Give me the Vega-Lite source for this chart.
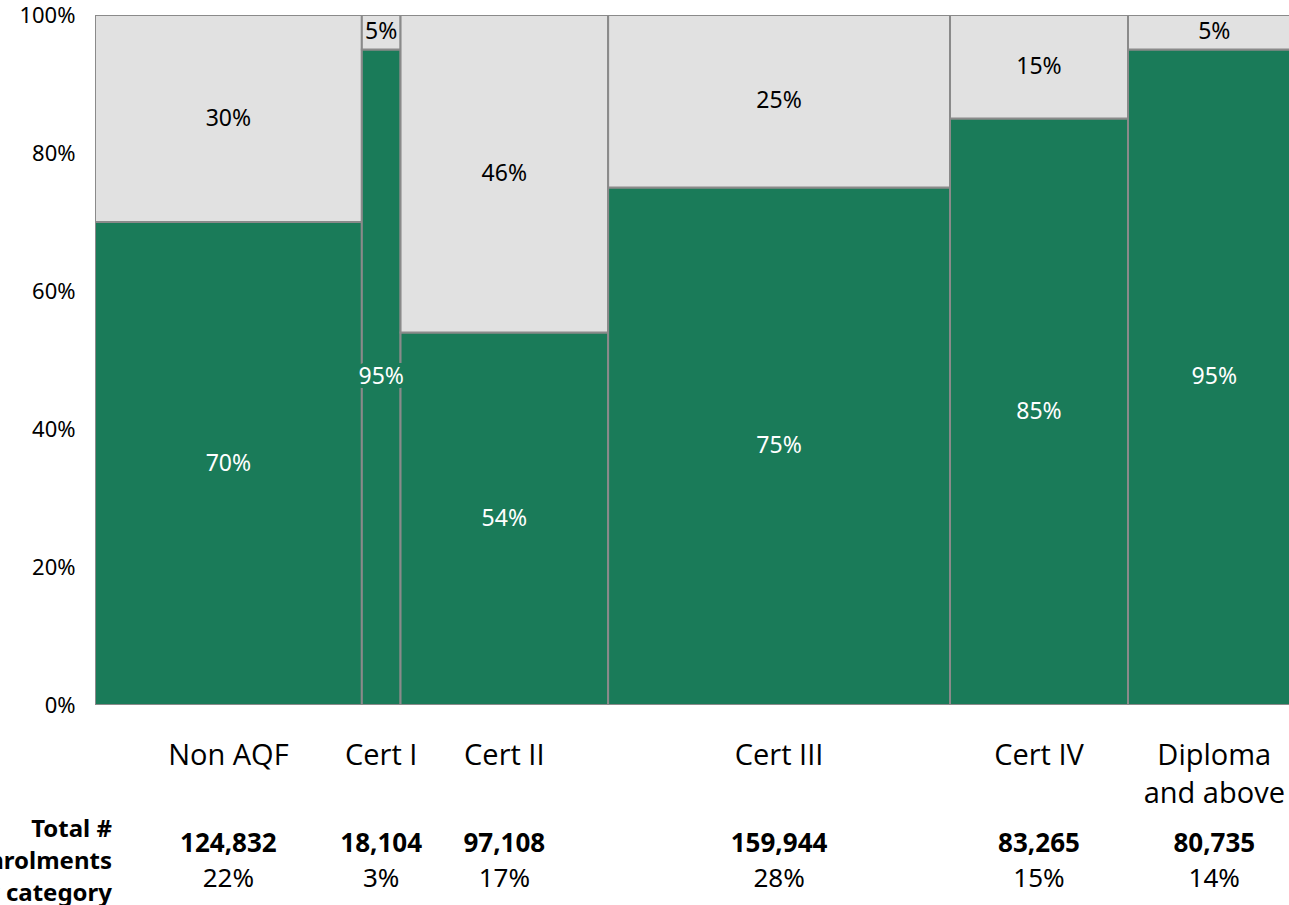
{
  "$schema": "https://vega.github.io/schema/vega-lite/v6.json",
  "autosize": {"type": "none"},
  "width": 1194,
  "height": 690,
  "padding": {"left": 95, "top": 15, "right": 0, "bottom": 200},
  "background": "white",
  "config": {"view": {"stroke": null}},
  "data": {
    "values": [
      {"cat": "Non AQF", "label": "Non AQF", "order": 1, "total": 124832, "share": "22%", "seg": "A", "pct": 0.70},
      {"cat": "Non AQF", "label": "Non AQF", "order": 1, "total": 124832, "share": "22%", "seg": "B", "pct": 0.30},
      {"cat": "Cert I", "label": "Cert I", "order": 2, "total": 18104, "share": "3%", "seg": "A", "pct": 0.95},
      {"cat": "Cert I", "label": "Cert I", "order": 2, "total": 18104, "share": "3%", "seg": "B", "pct": 0.05},
      {"cat": "Cert II", "label": "Cert II", "order": 3, "total": 97108, "share": "17%", "seg": "A", "pct": 0.54},
      {"cat": "Cert II", "label": "Cert II", "order": 3, "total": 97108, "share": "17%", "seg": "B", "pct": 0.46},
      {"cat": "Cert III", "label": "Cert III", "order": 4, "total": 159944, "share": "28%", "seg": "A", "pct": 0.75},
      {"cat": "Cert III", "label": "Cert III", "order": 4, "total": 159944, "share": "28%", "seg": "B", "pct": 0.25},
      {"cat": "Cert IV", "label": "Cert IV", "order": 5, "total": 83265, "share": "15%", "seg": "A", "pct": 0.85},
      {"cat": "Cert IV", "label": "Cert IV", "order": 5, "total": 83265, "share": "15%", "seg": "B", "pct": 0.15},
      {"cat": "Diploma and above", "label": "Diploma\nand above", "order": 6, "total": 80735, "share": "14%", "seg": "A", "pct": 0.95},
      {"cat": "Diploma and above", "label": "Diploma\nand above", "order": 6, "total": 80735, "share": "14%", "seg": "B", "pct": 0.05}
    ]
  },
  "transform": [
    {"stack": "total", "groupby": ["seg"], "sort": [{"field": "order"}], "as": ["x0", "x1"]},
    {"stack": "pct", "groupby": ["cat"], "sort": [{"field": "seg"}], "as": ["y0", "y1"]},
    {"calculate": "(datum.x0 + datum.x1) / 2", "as": "xm"},
    {"calculate": "(datum.y0 + datum.y1) / 2", "as": "ym"}
  ],
  "layer": [
    {
      "mark": {"type": "rect", "stroke": "#8a8a8a", "strokeWidth": 2, "clip": true},
      "encoding": {
        "x": {"field": "x0", "type": "quantitative", "scale": {"domain": [0, 558571], "nice": false, "zero": true}, "axis": null},
        "x2": {"field": "x1"},
        "y": {"field": "y0", "type": "quantitative", "scale": {"domain": [0, 1], "nice": false},
          "axis": {"values": [0, 0.2, 0.4, 0.6, 0.8, 1], "format": ".0%", "ticks": false, "domain": false, "grid": false, "labelPadding": 20, "labelFontSize": 22, "labelFont": "Noto Sans", "labelColor": "#000000", "title": null}},
        "y2": {"field": "y1"},
        "fill": {"field": "seg", "type": "nominal", "scale": {"domain": ["A", "B"], "range": ["#1a7b59", "#e1e1e1"]}, "legend": null}
      }
    },
    {
      "transform": [{"filter": "datum.seg == 'A'"}],
      "mark": {"type": "text", "font": "Noto Sans", "fontSize": 23, "fill": "#1a7b59", "stroke": "#1a7b59", "strokeWidth": 8, "align": "center", "baseline": "middle"},
      "encoding": {
        "x": {"field": "xm", "type": "quantitative"},
        "y": {"field": "ym", "type": "quantitative"},
        "text": {"field": "pct", "type": "quantitative", "format": ".0%"}
      }
    },
    {
      "mark": {"type": "text", "font": "Noto Sans", "fontSize": 23, "align": "center", "baseline": "middle"},
      "encoding": {
        "x": {"field": "xm", "type": "quantitative"},
        "y": {"field": "ym", "type": "quantitative"},
        "text": {"field": "pct", "type": "quantitative", "format": ".0%"},
        "fill": {"condition": {"test": "datum.seg == 'A'", "value": "#ffffff"}, "value": "#000000"}
      }
    },
    {
      "transform": [{"filter": "datum.seg == 'A'"}],
      "mark": {"type": "text", "font": "Open Sans", "fontSize": 29, "align": "center", "baseline": "alphabetic", "dy": 60, "lineBreak": "\n", "lineHeight": 38, "fill": "#000000"},
      "encoding": {
        "x": {"field": "xm", "type": "quantitative"},
        "y": {"datum": 0},
        "text": {"field": "label", "type": "nominal"}
      }
    },
    {
      "transform": [{"filter": "datum.seg == 'A'"}],
      "mark": {"type": "text", "font": "Noto Sans", "fontSize": 26, "fontWeight": "bold", "align": "center", "baseline": "alphabetic", "dy": 147, "fill": "#000000"},
      "encoding": {
        "x": {"field": "xm", "type": "quantitative"},
        "y": {"datum": 0},
        "text": {"field": "total", "type": "quantitative", "format": ","}
      }
    },
    {
      "transform": [{"filter": "datum.seg == 'A'"}],
      "mark": {"type": "text", "font": "Noto Sans", "fontSize": 26, "align": "center", "baseline": "alphabetic", "dy": 182, "fill": "#000000"},
      "encoding": {
        "x": {"field": "xm", "type": "quantitative"},
        "y": {"datum": 0},
        "text": {"field": "share", "type": "nominal"}
      }
    },
    {
      "transform": [{"filter": "datum.seg == 'A' && datum.order == 1"}],
      "mark": {"type": "text", "font": "Noto Sans", "fontSize": 24, "fontWeight": "bold", "align": "right", "baseline": "alphabetic", "dx": 17, "dy": 132, "lineHeight": 32, "fill": "#000000"},
      "encoding": {
        "x": {"datum": 0},
        "y": {"datum": 0},
        "text": {"value": ["Total #", "enrolments", "by category"]}
      }
    }
  ]
}
